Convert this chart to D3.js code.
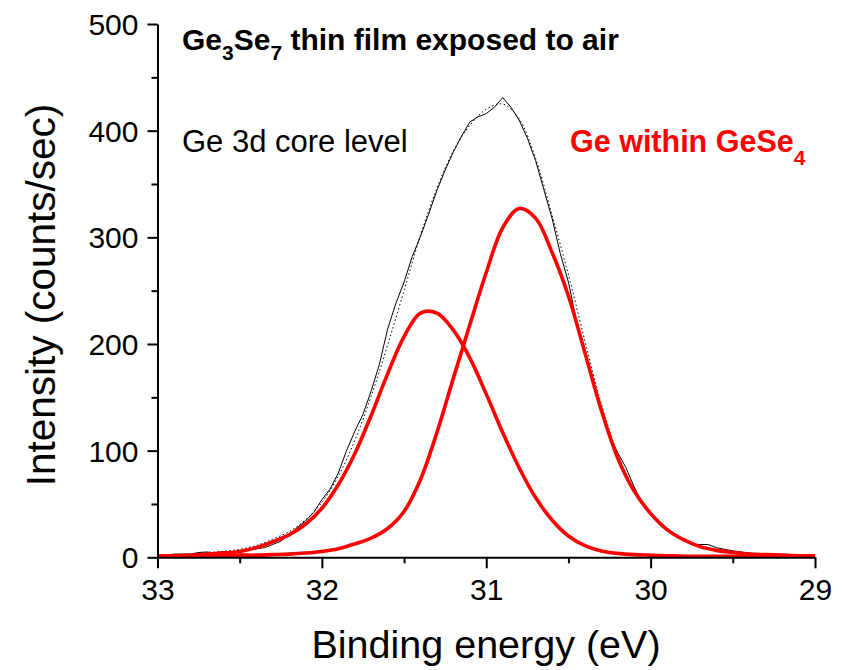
<!DOCTYPE html>
<html>
<head>
<meta charset="utf-8">
<script src="https://cdn.jsdelivr.net/npm/d3@7"></script>
<style>
  body { margin: 0; background: #fff; }
  text { font-family: "Liberation Sans", Arial, sans-serif; }
</style>
</head>
<body>
<script>
// XPS Ge 3d spectrum with two fitted components

// measured spectrum, read every 0.05 eV from 33 down to 29 eV
var measuredEnergy = d3.range(0, 81).map(function(i){ return +(33 - i * 0.05).toFixed(2); });
var measuredCounts = [2, 2, 3, 3, 3, 4.5, 5, 4, 5.5, 4.5,
    6, 7, 8, 9, 12, 15, 21, 28, 34, 42,
    54, 64, 79, 100, 118, 134, 156, 181, 214, 238,
    258, 282, 301, 322, 344, 363, 380, 395, 408, 413,
    416, 422, 431, 422, 410, 393, 372, 345, 318, 285,
    258, 221, 195, 162, 140, 114, 98, 84, 66, 50,
    41, 34, 27, 21, 16, 12, 12, 12, 9, 7.5,
    6, 5, 4, 3, 3, 2.5, 2.5, 2, 2, 2, 2];

// fit curves, read every 0.1 eV
var fitEnergy = d3.range(0, 41).map(function(i){ return +(33 - i * 0.1).toFixed(1); });
var peakLow = [1, 1.5, 2, 3, 4, 5.5, 9, 14.5, 21, 31,
    46, 68, 97, 133, 172, 207, 229, 229, 213, 187,
    153, 117, 84, 56, 35, 20, 11, 6, 3.7, 2.5,
    2, 1.5, 1, 1, 1, 1, 1, 1, 1, 1, 1];
var peakHigh = [1, 1, 1, 1.5, 1.5, 2, 2, 2.5, 3, 4,
    5.5, 8, 12.5, 18, 27, 43, 73, 117, 168, 218,
    267, 309, 327, 318, 286, 245, 192, 138, 93, 62,
    41, 26, 16.5, 10, 6.5, 4.5, 3, 2.5, 2, 1.5, 1.5];
var envelope = [2, 2.5, 3, 4.5, 5.5, 7.5, 11, 17, 24, 35,
    51.5, 76, 109.5, 151, 199, 250, 302, 346, 381, 405,
    420, 425, 411, 374, 321, 265, 203, 144, 96.7, 64.5,
    43, 27.5, 17.5, 11, 7.5, 5.5, 4, 3.5, 3, 2.5, 2.5];

var xMajor = [33, 32, 31, 30, 29],
    xMinor = [32.5, 31.5, 30.5, 29.5],
    yMajor = [0, 100, 200, 300, 400, 500],
    yMinor = [50, 150, 250, 350, 450];

var width = 845,
    height = 670;

var svg = d3.select("body")
    .append("svg")
    .attr("width", width)
    .attr("height", height);

var x = d3.scaleLinear().domain([33, 29]).range([157.5, 815]);
var y = d3.scaleLinear().domain([0, 500]).range([557.3, 24]);

//lines
var measuredLine = d3.line()
    .x(function(d){ return x(d[0]); })
    .y(function(d){ return y(d[1]); });

var smoothLine = d3.line()
    .curve(d3.curveCatmullRom)
    .x(function(d){ return x(d[0]); })
    .y(function(d){ return y(d[1]); });

svg.append("path")
    .datum(d3.zip(measuredEnergy, measuredCounts))
    .attr("d", measuredLine)
    .attr("fill", "none")
    .attr("stroke", "#000")
    .attr("stroke-width", 1);

svg.append("path")
    .datum(d3.zip(fitEnergy, envelope))
    .attr("d", smoothLine)
    .attr("fill", "none")
    .attr("stroke", "#000")
    .attr("stroke-width", 1)
    .attr("stroke-dasharray", "1.5,2.5");

[peakLow, peakHigh].forEach(function(p){
    svg.append("path")
        .datum(d3.zip(fitEnergy, p))
        .attr("d", smoothLine)
        .attr("fill", "none")
        .attr("stroke", "#ff0000")
        .attr("stroke-width", 3.6);
});

//axes
var xAxis = svg.append("g")
    .attr("transform", "translate(0," + y(0) + ")")
    .call(d3.axisBottom(x).tickValues(xMajor).tickSize(11).tickSizeOuter(0)
        .tickFormat(d3.format("d")));
svg.append("g")
    .attr("transform", "translate(0," + y(0) + ")")
    .call(d3.axisBottom(x).tickValues(xMinor).tickSize(6).tickFormat(""))
    .select(".domain").remove();

var yAxis = svg.append("g")
    .attr("transform", "translate(" + x(33) + ",0)")
    .call(d3.axisLeft(y).tickValues(yMajor).tickSize(10).tickSizeOuter(0));
svg.append("g")
    .attr("transform", "translate(" + x(33) + ",0)")
    .call(d3.axisLeft(y).tickValues(yMinor).tickSize(6).tickFormat(""))
    .select(".domain").remove();

svg.selectAll(".domain, .tick line")
    .attr("stroke", "#000")
    .attr("stroke-width", 2);

xAxis.selectAll(".tick text")
    .attr("font-size", 30)
    .attr("font-family", "Liberation Sans, Arial, sans-serif")
    .attr("fill", "#000")
    .attr("y", 21)
    .attr("dy", "0.71em");

yAxis.selectAll(".tick text")
    .attr("font-size", 30)
    .attr("font-family", "Liberation Sans, Arial, sans-serif")
    .attr("fill", "#000")
    .attr("x", -19)
    .attr("dy", "0.35em");

//axis titles
svg.append("text")
    .attr("x", 486)
    .attr("y", 658)
    .attr("text-anchor", "middle")
    .attr("font-size", 39.5)
    .text("Binding energy (eV)");

svg.append("text")
    .attr("transform", "translate(55,295) rotate(-90)")
    .attr("text-anchor", "middle")
    .attr("font-size", 40.5)
    .text("Intensity (counts/sec)");

//labels inside the plot
var title = svg.append("text")
    .attr("x", 182)
    .attr("y", 50)
    .attr("font-size", 30)
    .attr("font-weight", "bold");
title.append("tspan").text("Ge");
title.append("tspan").attr("font-size", 21).attr("dy", 10).text("3");
title.append("tspan").attr("dy", -10).text("Se");
title.append("tspan").attr("font-size", 21).attr("dy", 10).text("7");
title.append("tspan").attr("dy", -10).text(" thin film exposed to air");

svg.append("text")
    .attr("x", 182)
    .attr("y", 152)
    .attr("font-size", 31)
    .text("Ge 3d core level");

var red = svg.append("text")
    .attr("x", 570)
    .attr("y", 152)
    .attr("font-size", 30.5)
    .attr("font-weight", "bold")
    .attr("fill", "#ff0000");
red.append("tspan").text("Ge within GeSe");
red.append("tspan").attr("font-size", 21).attr("dy", 13).text("4");
</script>
</body>
</html>
